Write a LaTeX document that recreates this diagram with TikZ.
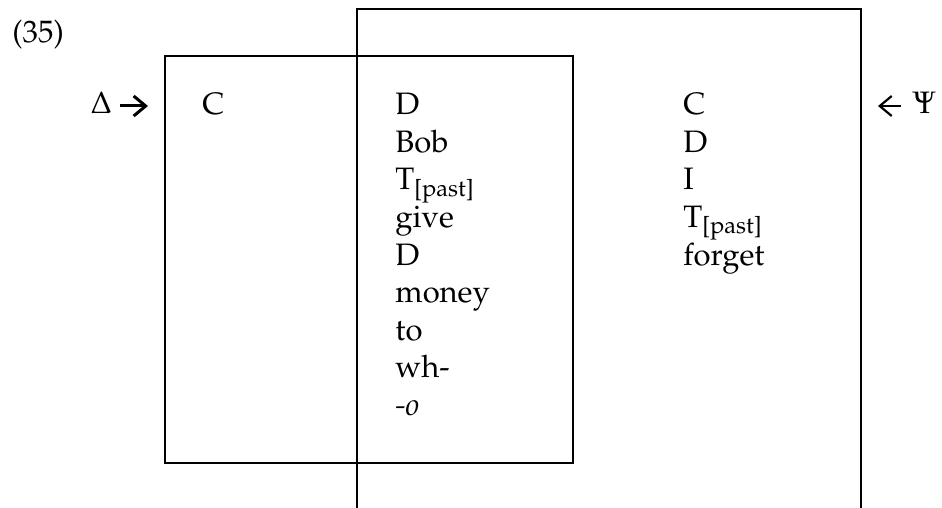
\documentclass[tikz,border=0pt]{standalone}
\usepackage[T1]{fontenc}
\usepackage{mathpazo}
\usetikzlibrary{arrows.meta}

\begin{document}
\begin{tikzpicture}[x=0.5pt, y=-0.5pt,
  word/.style={font=\fontsize{15.5}{18}\selectfont, anchor=base west,
    inner sep=0pt},
  frame/.style={line width=1pt},
  arr/.style={-{Straight Barb[length=6pt, width=10pt]}, line width=1.5pt},
  arrthin/.style={arr, line width=1.1pt},
]
  \useasboundingbox (0,0) rectangle (942,508);

  % the two boxes
  \draw[frame] (165,56) rectangle (573,463);
  \draw[frame] (357,508) -- (357,9) -- (861,9) -- (861,508);

  \node[word] (num) at (12,43) {(35)};

  \node[word] (delta) at (90,114) {$\Delta$};
  \coordinate (dfrom) at (120,106);
  \coordinate (dto) at (148,106);
  \draw[arr] (dfrom) -- (dto);

  \node[word] (psi) at (912,114) {$\Psi$};
  \coordinate (pfrom) at (901,106);
  \coordinate (pto) at (878,106);
  \draw[arrthin] (pfrom) -- (pto);

  \node[word] (cleft) at (202,115) {C};

  \foreach \w [count=\i from 0] in {D, Bob, {T\textsubscript{[past]}}, give,
      D, money, to, wh-, {\textit{-o}}}
    \node[word] (mid\i) at (395,{115+37.5*\i}) {\w};

  \foreach \w [count=\i from 0] in {C, D, I, {T\textsubscript{[past]}}, forget}
    \node[word] (right\i) at (683,{115+37.5*\i}) {\w};
\end{tikzpicture}
\end{document}
